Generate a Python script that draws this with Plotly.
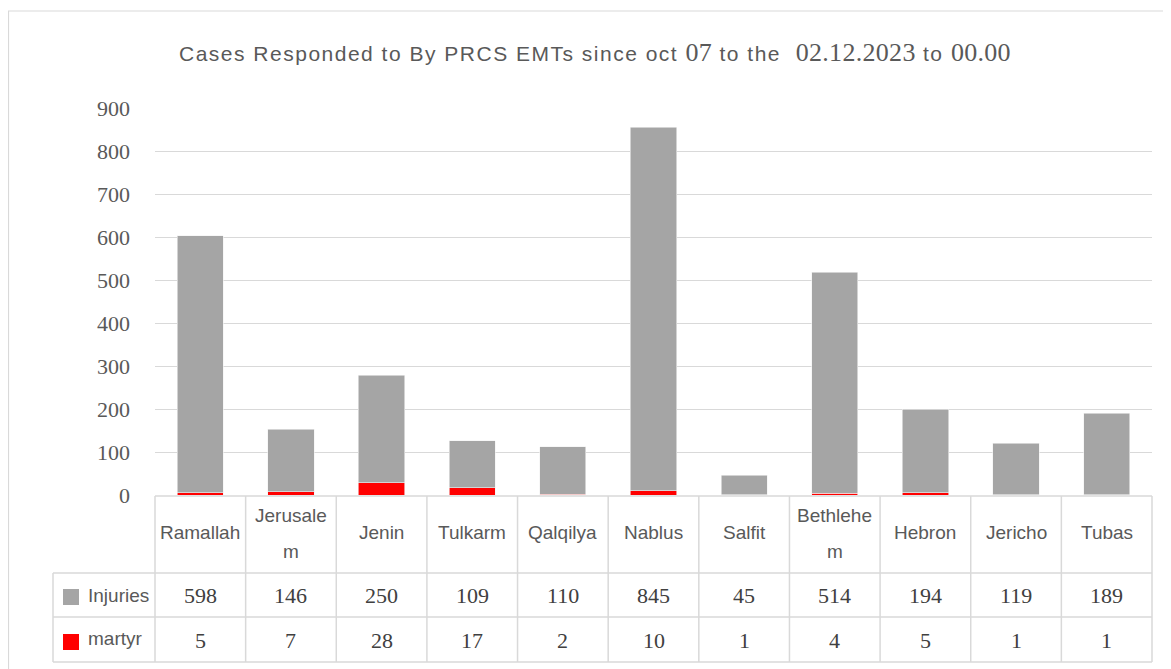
import plotly.graph_objects as go

categories = ["Ramallah", "Jerusalem", "Jenin", "Tulkarm", "Qalqilya", "Nablus",
              "Salfit", "Bethlehem", "Hebron", "Jericho", "Tubas"]
injuries = [598, 146, 250, 109, 110, 845, 45, 514, 194, 119, 189]
martyr = [5, 7, 28, 17, 2, 10, 1, 4, 5, 1, 1]
series_names = ["Injuries", "martyr"]
y_ticks = [0, 100, 200, 300, 400, 500, 600, 700, 800, 900]

W, H = 1171, 669
OFF = 8  # page body margin
GRAY = "#a5a5a5"
RED = "#ff0000"
GRID = "#d9d9d9"
TXT = "#595959"
NUM = "#404040"
SERIF = "Liberation Serif"
SANS = "Liberation Sans"

x0_px, x1_px = 155, 1152
y0_px, y900_px = 495, 108


def px(x):
    return (x - OFF) / W


def py(y):
    return 1 - (y - OFF) / H


fig = go.Figure()
fig.add_trace(go.Bar(x=categories, y=martyr, name=series_names[1],
                     marker=dict(color=RED, line=dict(color="#f2f2f2", width=0.6))))
fig.add_trace(go.Bar(x=categories, y=injuries, name=series_names[0],
                     marker=dict(color=GRAY, line=dict(color="#f2f2f2", width=0.6))))

n = len(categories)
cw = (x1_px - x0_px) / n

shapes = []
ann = []
# outer border
shapes.append(dict(type="rect", xref="paper", yref="paper", x0=px(8.5), x1=px(1185),
                   y0=py(690), y1=py(11), line=dict(color=GRID, width=1.2)))
# table lines
tab_top, row1, row2, tab_bot = 496, 573, 617, 662
left_px = 53
for yy, xa in [(tab_top, x0_px), (row1, left_px), (row2, left_px), (tab_bot, left_px)]:
    shapes.append(dict(type="line", xref="paper", yref="paper", x0=px(xa), x1=px(x1_px),
                       y0=py(yy), y1=py(yy), line=dict(color=GRID, width=1.5)))
for i in range(n + 1):
    xx = x0_px + i * cw
    shapes.append(dict(type="line", xref="paper", yref="paper", x0=px(xx), x1=px(xx),
                       y0=py(tab_top), y1=py(tab_bot), line=dict(color=GRID, width=1.5)))
shapes.append(dict(type="line", xref="paper", yref="paper", x0=px(left_px), x1=px(left_px),
                   y0=py(row1), y1=py(tab_bot), line=dict(color=GRID, width=1.5)))
# legend keys
for yt, col in [(589, GRAY), (634, RED)]:
    shapes.append(dict(type="rect", xref="paper", yref="paper", x0=px(63), x1=px(79),
                       y0=py(yt + 16), y1=py(yt), fillcolor=col, line=dict(width=0)))
ann.append(dict(text=series_names[0], x=px(86), y=py(595), xref="paper", yref="paper",
                xanchor="left", yanchor="middle", showarrow=False,
                font=dict(family=SANS, size=19, color=TXT)))
ann.append(dict(text=series_names[1], x=px(86), y=py(638), xref="paper", yref="paper",
                xanchor="left", yanchor="middle", showarrow=False,
                font=dict(family=SANS, size=19, color=TXT)))


def wrap(s, k=8):
    return [s[i:i + k] for i in range(0, len(s), k)] if len(s) > k else [s]


for i, c in enumerate(categories):
    lines = wrap(c)
    ys = [532] if len(lines) == 1 else [515, 551]
    for t, yy in zip(lines, ys):
        ann.append(dict(text=t, x=c, xref="x", y=py(yy), yref="paper", showarrow=False,
                        xanchor="center", yanchor="middle",
                        font=dict(family=SANS, size=19, color=TXT)))
    ann.append(dict(text=str(injuries[i]), x=c, xref="x", y=py(595), yref="paper",
                    showarrow=False, yanchor="middle",
                    font=dict(family=SERIF, size=22, color=NUM)))
    ann.append(dict(text=str(martyr[i]), x=c, xref="x", y=py(640), yref="paper",
                    showarrow=False, yanchor="middle",
                    font=dict(family=SERIF, size=22, color=NUM)))


def sans(t):
    return f'<span style="letter-spacing:1.5px">{t}</span>'


def serif(t):
    return f"<span style=\"font-family:'Liberation Serif',serif;font-size:26px;letter-spacing:0.3px\">{t}</span>"


title = (sans("Cases Responded to By PRCS EMTs since oct ") + serif("07") +
         sans(" to the  ") + serif("02.12.2023") + sans(" to ") + serif("00.00"))
ann.append(dict(text=title, x=px(595), y=py(53), xref="paper", yref="paper",
                showarrow=False, xanchor="center", yanchor="middle",
                font=dict(family=SANS, size=21, color=TXT)))

fig.update_layout(
    width=W, height=H, margin=dict(l=0, r=0, t=0, b=0, pad=0),
    paper_bgcolor="white", plot_bgcolor="white",
    barmode="stack", bargap=0.49, showlegend=False,
    shapes=shapes, annotations=ann,
    xaxis=dict(domain=[px(x0_px), px(x1_px)], showticklabels=False, showgrid=False,
               zeroline=False, showline=False, range=[-0.5, n - 0.5], automargin=False),
    yaxis=dict(domain=[py(y0_px), py(y900_px)], range=[0, 900], tickvals=y_ticks,
               showgrid=True, gridcolor=GRID, gridwidth=1.3, zeroline=False,
               showline=False, ticks="", ticklabelstandoff=24, automargin=False,
               tickfont=dict(family=SERIF, size=22, color=TXT)),
)

fig.write_html("out.html")
